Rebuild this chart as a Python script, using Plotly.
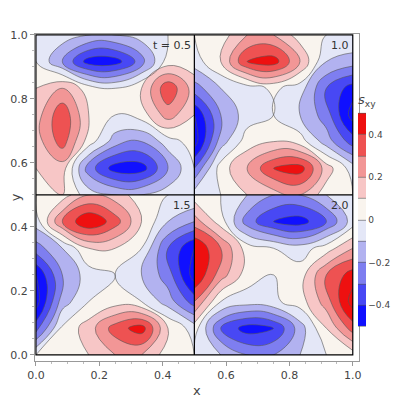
import numpy as np
import plotly.graph_objects as go

# local grid inside each quadrant (0..0.5 in x and y)
grid = [0, 1/12, 2/12, 3/12, 4/12, 5/12, 0.5]

# s_xy values, rows bottom->top, columns left->right
q_05 = [
    [0.02, 0.1, -0.05, -0.1, -0.1, -0.05, 0],
    [0.1, 0.15, -0.25, -0.45, -0.45, -0.2, 0],
    [0.15, 0.35, 0.05, -0.15, -0.2, -0.05, 0.05],
    [0.15, 0.38, 0.1, 0, 0.05, 0.25, 0.1],
    [0.1, 0.2, 0.05, 0, 0.1, 0.38, 0.15],
    [0, -0.2, -0.45, -0.45, -0.25, 0.05, 0.05],
    [0, -0.05, -0.1, -0.1, -0.05, 0, 0],
]
q_10 = [
    [-0.05, 0, 0.1, 0.15, 0.2, 0.05, 0],
    [-0.3, 0.05, 0.2, 0.4, 0.45, 0.15, -0.05],
    [-0.55, -0.15, 0.05, 0.1, 0.05, -0.15, -0.35],
    [-0.5, -0.2, -0.05, 0, -0.1, -0.25, -0.55],
    [-0.25, -0.1, -0.05, 0.02, -0.05, -0.3, -0.45],
    [-0.05, 0.1, 0.4, 0.45, 0.2, -0.1, -0.15],
    [0, 0.05, 0.2, 0.2, 0.05, 0, 0],
]
q_15 = [
    [0, 0.02, 0.1, 0.2, 0.2, 0.05, 0],
    [-0.35, 0.02, 0.15, 0.35, 0.45, 0.1, -0.05],
    [-0.55, -0.15, 0, 0.05, 0, -0.15, -0.35],
    [-0.5, -0.2, -0.05, 0, -0.1, -0.25, -0.55],
    [-0.25, -0.1, 0.1, 0.1, 0, -0.3, -0.5],
    [-0.05, 0.3, 0.5, 0.35, 0.1, -0.1, -0.2],
    [0, 0.05, 0.2, 0.15, 0.05, 0, 0],
]
q_20 = [
    [0, -0.1, -0.2, -0.2, -0.1, 0, 0.05],
    [0.05, -0.3, -0.45, -0.4, -0.15, 0.1, 0.35],
    [0.3, 0, -0.05, -0.02, 0.05, 0.25, 0.55],
    [0.5, 0.25, 0.05, 0, 0.05, 0.3, 0.45],
    [0.5, 0.3, 0.05, 0, -0.05, 0.05, 0.2],
    [0.25, 0.05, -0.25, -0.4, -0.45, -0.3, -0.05],
    [0.05, 0, -0.1, -0.2, -0.2, -0.1, 0],
]
quadrants = [(q_05, 0, 0.5, "t = 0.5"), (q_10, 0.5, 0.5, "1.0"),
             (q_15, 0, 0, "1.5"), (q_20, 0.5, 0, "2.0")]

band_colors = ["#1010ff", "#4848f4", "#7e7ef0", "#b2b2f0", "#e4e7f7",
               "#f9f4ee", "#f7c6c6", "#f29696", "#ee5252", "#ee1010"]
scale = []
for i, c in enumerate(band_colors):
    scale.append([i / 10, c])
    scale.append([(i + 1) / 10, c])

fig = go.Figure()
for k, (z, x0, y0, lab) in enumerate(quadrants):
    g = np.array(grid)
    fig.add_trace(go.Contour(
        x=g + x0, y=g + y0, z=z, zmin=-0.5, zmax=0.5,
        contours=dict(start=-0.5, end=0.5, size=0.1, coloring="fill"),
        colorscale=scale, line=dict(color="#555555", width=0.6, smoothing=1.3),
        showscale=(k == 0),
        colorbar=dict(x=0.89, xanchor="left", xpad=0, y=0.465, len=0.78, thickness=8,
                      outlinewidth=0, tickvals=[-0.4, -0.2, 0, 0.2, 0.4],
                      ticktext=["\u22120.4", "\u22120.2", "0", "0.2", "0.4"],
                      ticks="", tickfont=dict(size=9, color="#444"),
                      title=dict(text="<i>s</i><sub>xy</sub>", side="top",
                                 font=dict(size=13, color="#444")))
    ))
    fig.add_annotation(x=x0 + 0.495, y=y0 + 0.495, text=lab, showarrow=False,
                       xanchor="right", yanchor="top",
                       font=dict(size=11, color="#333"))

fig.add_shape(type="rect", x0=0, x1=1, y0=0, y1=1, line=dict(color="black", width=1.2))
fig.add_shape(type="line", x0=0.5, x1=0.5, y0=0, y1=1, line=dict(color="black", width=1.2))
fig.add_shape(type="line", x0=0, x1=1, y0=0.5, y1=0.5, line=dict(color="black", width=1.2))

ax = dict(showgrid=False, zeroline=False, mirror=True, showline=True,
          linecolor="#999", ticks="outside", ticklen=4, tickcolor="#999",
          tickvals=[0, 0.2, 0.4, 0.6, 0.8, 1.0],
          ticktext=["0.0", "0.2", "0.4", "0.6", "0.8", "1.0"],
          tickfont=dict(size=11, color="#444"),
          minor=dict(ticks="outside", ticklen=2, tickcolor="#bbb", dtick=0.05))
fig.update_xaxes(range=[-0.003, 1.019], domain=[0, 0.892],
                 title=dict(text="x", standoff=4, font=dict(size=13, color="#444")), **ax)
fig.update_yaxes(range=[-0.019, 1.003],
                 title=dict(text="y", standoff=2, font=dict(size=13, color="#444")), **ax)
fig.update_layout(width=400, height=400, margin=dict(l=27, r=10, t=26, b=47, autoexpand=False),
                  plot_bgcolor="white", paper_bgcolor="white",
                  font=dict(family="DejaVu Sans"))
fig.write_html("out.html")
